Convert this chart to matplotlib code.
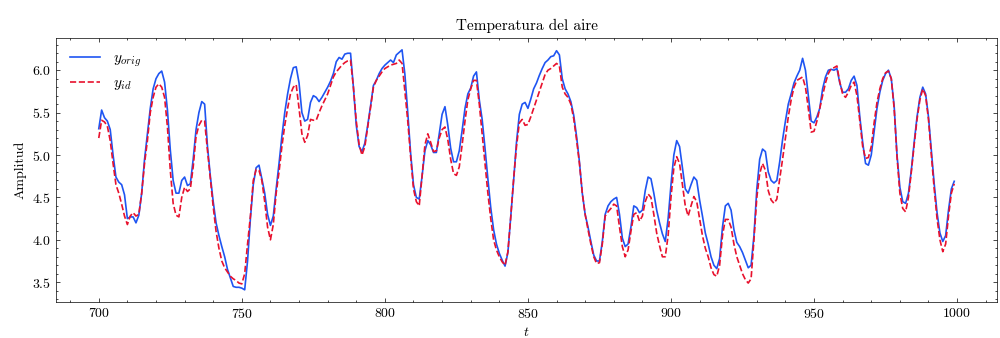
import matplotlib
matplotlib.use("Agg")
import matplotlib.pyplot as plt
import numpy as np

# time axis and the two series
t = np.arange(700, 1000)

y_orig = [
    5.31, 5.53, 5.44, 5.40, 5.30, 5.00, 4.74, 4.68, 4.65, 4.53,
    4.25, 4.27, 4.27, 4.20, 4.29, 4.55, 4.95, 5.25, 5.55, 5.78,
    5.90, 5.96, 5.99, 5.86, 5.53, 5.06, 4.70, 4.55, 4.55, 4.70,
    4.74, 4.64, 4.66, 4.95, 5.30, 5.50, 5.63, 5.60, 5.10, 4.75,
    4.45, 4.20, 4.05, 3.92, 3.80, 3.65, 3.55, 3.45, 3.44, 3.44,
    3.43, 3.41, 3.75, 4.25, 4.65, 4.85, 4.88, 4.72, 4.55, 4.30,
    4.17, 4.28, 4.60, 4.90, 5.22, 5.50, 5.72, 5.90, 6.03, 6.04,
    5.85, 5.50, 5.40, 5.42, 5.62, 5.70, 5.68, 5.63, 5.68, 5.74,
    5.80, 5.87, 5.96, 6.10, 6.15, 6.13, 6.19, 6.20, 6.20, 5.80,
    5.35, 5.10, 5.04, 5.14, 5.35, 5.58, 5.82, 5.88, 5.96, 6.02,
    6.06, 6.09, 6.12, 6.09, 6.18, 6.21, 6.24, 5.95, 5.50, 5.02,
    4.65, 4.50, 4.48, 4.75, 5.05, 5.17, 5.12, 5.03, 5.03, 5.25,
    5.48, 5.57, 5.35, 5.08, 4.92, 4.92, 5.05, 5.29, 5.55, 5.72,
    5.79, 5.93, 5.98, 5.65, 5.42, 5.08, 4.72, 4.38, 4.12, 3.95,
    3.84, 3.76, 3.69, 3.85, 4.27, 4.70, 5.15, 5.48, 5.60, 5.62,
    5.55, 5.66, 5.78, 5.85, 5.94, 6.02, 6.09, 6.12, 6.16, 6.17,
    6.23, 6.18, 5.90, 5.78, 5.72, 5.63, 5.47, 5.22, 4.92, 4.55,
    4.30, 4.15, 3.98, 3.82, 3.75, 3.75, 3.98, 4.30, 4.40, 4.45,
    4.48, 4.50, 4.30, 4.02, 3.92, 3.95, 4.15, 4.40, 4.38, 4.32,
    4.35, 4.58, 4.74, 4.72, 4.55, 4.35, 4.20, 4.07, 3.98, 4.25,
    4.65, 5.00, 5.17, 5.10, 4.85, 4.60, 4.55, 4.65, 4.74, 4.70,
    4.47, 4.28, 4.08, 3.95, 3.80, 3.70, 3.66, 3.78, 4.15, 4.40,
    4.43, 4.35, 4.12, 3.97, 3.92, 3.85, 3.76, 3.67, 3.70, 4.05,
    4.60, 4.95, 5.07, 5.04, 4.80, 4.70, 4.67, 4.70, 4.92, 5.18,
    5.40, 5.60, 5.72, 5.85, 5.93, 6.00, 6.14, 6.00, 5.70, 5.40,
    5.38, 5.45, 5.55, 5.78, 5.92, 6.00, 6.01, 6.00, 6.02, 5.85,
    5.74, 5.74, 5.78, 5.88, 5.93, 5.82, 5.45, 5.15, 4.90, 4.88,
    5.00, 5.28, 5.55, 5.74, 5.88, 5.96, 6.00, 5.90, 5.58, 5.00,
    4.62, 4.45, 4.43, 4.55, 4.82, 5.15, 5.45, 5.68, 5.80, 5.72,
    5.45, 5.05, 4.66, 4.32, 4.08, 3.98, 4.05, 4.35, 4.60, 4.69,
]

y_id = [
    5.20, 5.41, 5.39, 5.34, 5.17, 4.90, 4.65, 4.55, 4.42, 4.28,
    4.18, 4.28, 4.32, 4.28, 4.30, 4.55, 4.90, 5.17, 5.50, 5.68,
    5.80, 5.84, 5.80, 5.68, 5.33, 4.82, 4.43, 4.29, 4.27, 4.50,
    4.62, 4.57, 4.60, 4.86, 5.22, 5.35, 5.41, 5.40, 5.05, 4.72,
    4.39, 4.10, 3.90, 3.75, 3.67, 3.62, 3.57, 3.54, 3.52, 3.49,
    3.48, 3.60, 3.95, 4.28, 4.70, 4.83, 4.82, 4.70, 4.45, 4.15,
    4.00, 4.18, 4.55, 4.80, 5.10, 5.35, 5.55, 5.72, 5.80, 5.83,
    5.55, 5.25, 5.15, 5.23, 5.42, 5.41, 5.41, 5.50, 5.58, 5.65,
    5.72, 5.82, 5.92, 5.98, 6.02, 6.06, 6.09, 6.11, 6.12, 5.80,
    5.40, 5.12, 5.00, 5.10, 5.33, 5.56, 5.80, 5.88, 5.93, 5.98,
    6.02, 6.04, 6.06, 6.07, 6.08, 6.12, 6.08, 5.75, 5.40, 4.98,
    4.60, 4.45, 4.40, 4.75, 5.12, 5.25, 5.15, 5.04, 5.05, 5.20,
    5.30, 5.33, 5.18, 4.95, 4.78, 4.76, 4.86, 5.12, 5.40, 5.65,
    5.78, 5.88, 5.88, 5.60, 5.25, 4.90, 4.55, 4.25, 4.00, 3.88,
    3.80, 3.74, 3.70, 3.86, 4.27, 4.72, 5.10, 5.38, 5.42, 5.35,
    5.36, 5.45, 5.55, 5.65, 5.75, 5.85, 5.95, 6.00, 6.02, 6.05,
    6.08, 6.05, 5.80, 5.72, 5.68, 5.60, 5.43, 5.18, 4.90, 4.55,
    4.30, 4.12, 3.95, 3.80, 3.72, 3.73, 3.95, 4.28, 4.33, 4.37,
    4.42, 4.40, 4.15, 3.92, 3.80, 3.88, 4.10, 4.30, 4.32, 4.22,
    4.28, 4.45, 4.54, 4.50, 4.30, 4.08, 3.93, 3.80, 3.80, 4.05,
    4.50, 4.85, 4.98, 4.90, 4.65, 4.40, 4.28, 4.40, 4.51, 4.45,
    4.25, 4.05, 3.90, 3.80, 3.67, 3.59, 3.57, 3.70, 4.05, 4.24,
    4.24, 4.15, 3.95, 3.80, 3.70, 3.60, 3.53, 3.49, 3.54, 4.00,
    4.50, 4.78, 4.90, 4.82, 4.58, 4.47, 4.43, 4.48, 4.72, 4.95,
    5.20, 5.45, 5.65, 5.80, 5.88, 5.90, 5.92, 5.80, 5.55, 5.27,
    5.28, 5.40, 5.55, 5.70, 5.85, 5.96, 6.02, 6.03, 6.05, 5.86,
    5.72, 5.68, 5.74, 5.82, 5.86, 5.70, 5.40, 5.10, 4.96, 4.97,
    5.10, 5.38, 5.62, 5.78, 5.90, 5.97, 5.99, 5.90, 5.55, 4.98,
    4.55, 4.37, 4.33, 4.50, 4.80, 5.12, 5.42, 5.65, 5.78, 5.70,
    5.42, 5.00, 4.60, 4.25, 4.00, 3.86, 3.95, 4.28, 4.55, 4.66,
]

plt.rcParams.update({
    "font.family": "serif",
    "font.serif": ["cmr10"],
    "mathtext.fontset": "cm",
    "axes.formatter.use_mathtext": True,
    "font.size": 10,
    "xtick.direction": "in",
    "ytick.direction": "in",
    "xtick.top": True,
    "ytick.right": True,
    "xtick.minor.visible": True,
    "ytick.minor.visible": True,
    "xtick.major.size": 3,
    "ytick.major.size": 3,
    "xtick.minor.size": 1.5,
    "ytick.minor.size": 1.5,
    "axes.linewidth": 0.5,
    "xtick.major.width": 0.5,
    "ytick.major.width": 0.5,
    "xtick.minor.width": 0.5,
    "ytick.minor.width": 0.5,
})

fig = plt.figure(figsize=(10, 3.38), dpi=100)
ax = fig.add_axes([0.056, 0.107, 0.941, 0.781])

ax.plot(t, y_orig, color="#1f55f2", lw=1.2, label=r"$y_{orig}$")
ax.plot(t, y_id, color="#e8112d", lw=1.2, ls="--", label=r"$y_{id}$")

ax.set_title("Temperatura del aire", fontsize=11)
ax.set_xlabel(r"$t$")
ax.set_ylabel("Amplitud")
ax.set_xticks([700, 750, 800, 850, 900, 950, 1000])
ax.xaxis.set_minor_locator(matplotlib.ticker.MultipleLocator(10))
ax.yaxis.set_minor_locator(matplotlib.ticker.MultipleLocator(0.1))
ax.legend(loc="upper left", frameon=False, fontsize=11)

fig.savefig("out.png", dpi=100)
